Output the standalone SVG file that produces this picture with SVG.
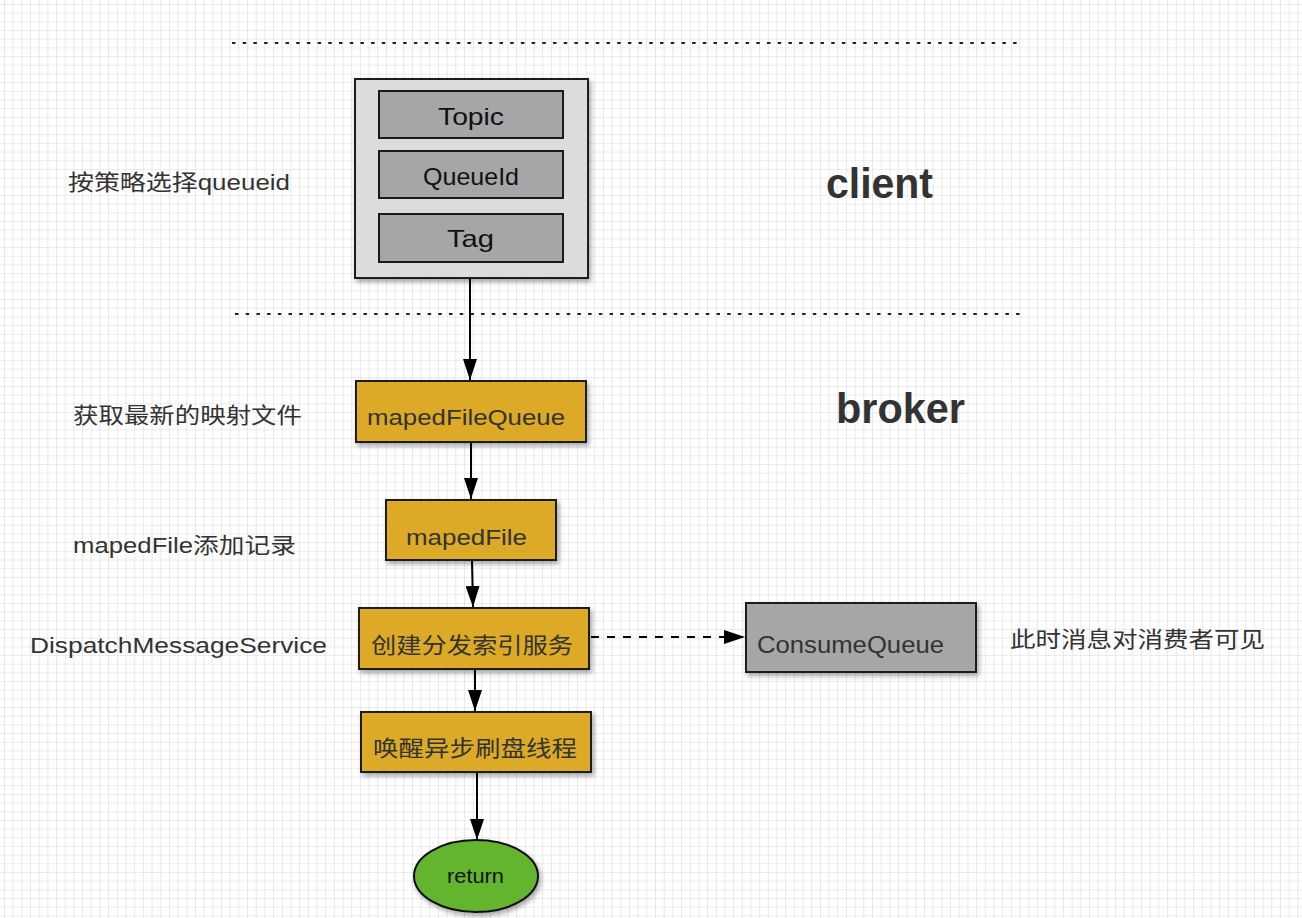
<svg xmlns="http://www.w3.org/2000/svg" width="1302" height="918" viewBox="0 0 1302 918">
<defs>
<pattern id="grid" x="4" y="4" width="8.68" height="8.68" patternUnits="userSpaceOnUse">
<path d="M0 0H8.68M0 0V8.68" fill="none" stroke="#dadada" stroke-width="1.2"/>
</pattern>
<filter id="sh" x="-10%" y="-10%" width="130%" height="140%">
<feDropShadow dx="2" dy="3" stdDeviation="2.5" flood-color="#000" flood-opacity="0.35"/>
</filter>
<marker id="ah" viewBox="0 0 21 14" refX="21" refY="7" markerWidth="21" markerHeight="14" markerUnits="userSpaceOnUse" orient="auto">
<path d="M0 0L21 7L0 14Z" fill="#000"/>
</marker>
</defs>
<style>
.t{font-family:"Liberation Sans","Noto Sans CJK SC",sans-serif;fill:#333}
.lbl{font-size:22px}
.big{font-size:42px;font-weight:bold}
.bx{font-size:22px}
.gold{fill:#dcaa27;stroke:#1a1a1a;stroke-width:2}
.gray{fill:#a6a6a6;stroke:#1a1a1a;stroke-width:2}
.dot{stroke:#222;stroke-width:2;stroke-dasharray:3.5 7.2;fill:none}
.conn{stroke:#000;stroke-width:2;fill:none}
</style>
<rect width="1302" height="918" fill="#fff"/>
<rect width="1302" height="918" fill="url(#grid)"/>

<g id="separators">
<line class="dot" x1="232" y1="43" x2="1018" y2="43"/>
<line class="dot" x1="235" y1="314" x2="1020" y2="314"/>
</g>

<g id="labels">
<text class="t lbl" x="68" y="190" textLength="222" lengthAdjust="spacingAndGlyphs">按策略选择queueid</text>
<text class="t big" x="826" y="198" textLength="107" lengthAdjust="spacingAndGlyphs">client</text>
<text class="t big" x="836" y="423" textLength="129" lengthAdjust="spacingAndGlyphs">broker</text>
<text class="t lbl" x="73" y="423" textLength="229" lengthAdjust="spacingAndGlyphs">获取最新的映射文件</text>
<text class="t lbl" x="73" y="553" textLength="223" lengthAdjust="spacingAndGlyphs">mapedFile添加记录</text>
<text class="t lbl" x="30" y="653" textLength="297" lengthAdjust="spacingAndGlyphs">DispatchMessageService</text>
<text class="t lbl" x="1010" y="647" textLength="255" lengthAdjust="spacingAndGlyphs">此时消息对消费者可见</text>
</g>

<g id="connectors">
<line class="conn" x1="470" y1="279" x2="470" y2="380" marker-end="url(#ah)"/>
<line class="conn" x1="471" y1="443" x2="471" y2="499" marker-end="url(#ah)"/>
<line class="conn" x1="472" y1="561" x2="473" y2="607" marker-end="url(#ah)"/>
<line class="conn" x1="475" y1="670" x2="475" y2="711" marker-end="url(#ah)"/>
<line class="conn" x1="477" y1="773" x2="477" y2="840" marker-end="url(#ah)"/>
<line class="conn" x1="591" y1="637" x2="745" y2="637" stroke-dasharray="8 8" marker-end="url(#ah)"/>
</g>

<g id="client-message">
<rect x="355" y="79" width="233" height="199" fill="#dcdcdc" stroke="#1a1a1a" stroke-width="2" filter="url(#sh)"/>
<g id="topic">
<rect class="gray" x="379" y="91" width="184" height="47"/>
<text class="t" x="438" y="125" font-size="24" style="fill:#111" textLength="66" lengthAdjust="spacingAndGlyphs">Topic</text>
</g>
<g id="queueid">
<rect class="gray" x="379" y="151" width="184" height="47"/>
<text class="t" x="423" y="185" font-size="24" style="fill:#111" textLength="96" lengthAdjust="spacingAndGlyphs">QueueId</text>
</g>
<g id="tag">
<rect class="gray" x="379" y="214" width="184" height="48"/>
<text class="t" x="447" y="247" font-size="24" style="fill:#111" textLength="47" lengthAdjust="spacingAndGlyphs">Tag</text>
</g>
</g>

<g id="mapedFileQueue">
<rect class="gold" x="356" y="381" width="230" height="61" filter="url(#sh)"/>
<text class="t bx" x="367" y="425" textLength="198" lengthAdjust="spacingAndGlyphs">mapedFileQueue</text>
</g>

<g id="mapedFile">
<rect class="gold" x="386" y="500" width="170" height="60" filter="url(#sh)"/>
<text class="t bx" x="406" y="545" textLength="121" lengthAdjust="spacingAndGlyphs">mapedFile</text>
</g>

<g id="dispatch">
<rect class="gold" x="359" y="608" width="230" height="61" filter="url(#sh)"/>
<text class="t bx" x="371" y="653" textLength="202" lengthAdjust="spacingAndGlyphs">创建分发索引服务</text>
</g>

<g id="flush">
<rect class="gold" x="361" y="712" width="230" height="60" filter="url(#sh)"/>
<text class="t bx" x="373" y="756" textLength="204" lengthAdjust="spacingAndGlyphs">唤醒异步刷盘线程</text>
</g>

<g id="consumeQueue">
<rect class="gray" x="746" y="603" width="230" height="69" filter="url(#sh)"/>
<text class="t" x="757" y="653" font-size="23" textLength="187" lengthAdjust="spacingAndGlyphs">ConsumeQueue</text>
</g>

<g id="return">
<ellipse cx="476" cy="876" rx="62" ry="36" fill="#63b52f" stroke="#111" stroke-width="2" filter="url(#sh)"/>
<text class="t" x="447" y="883" font-size="20" style="fill:#111" textLength="57" lengthAdjust="spacingAndGlyphs">return</text>
</g>
</svg>
